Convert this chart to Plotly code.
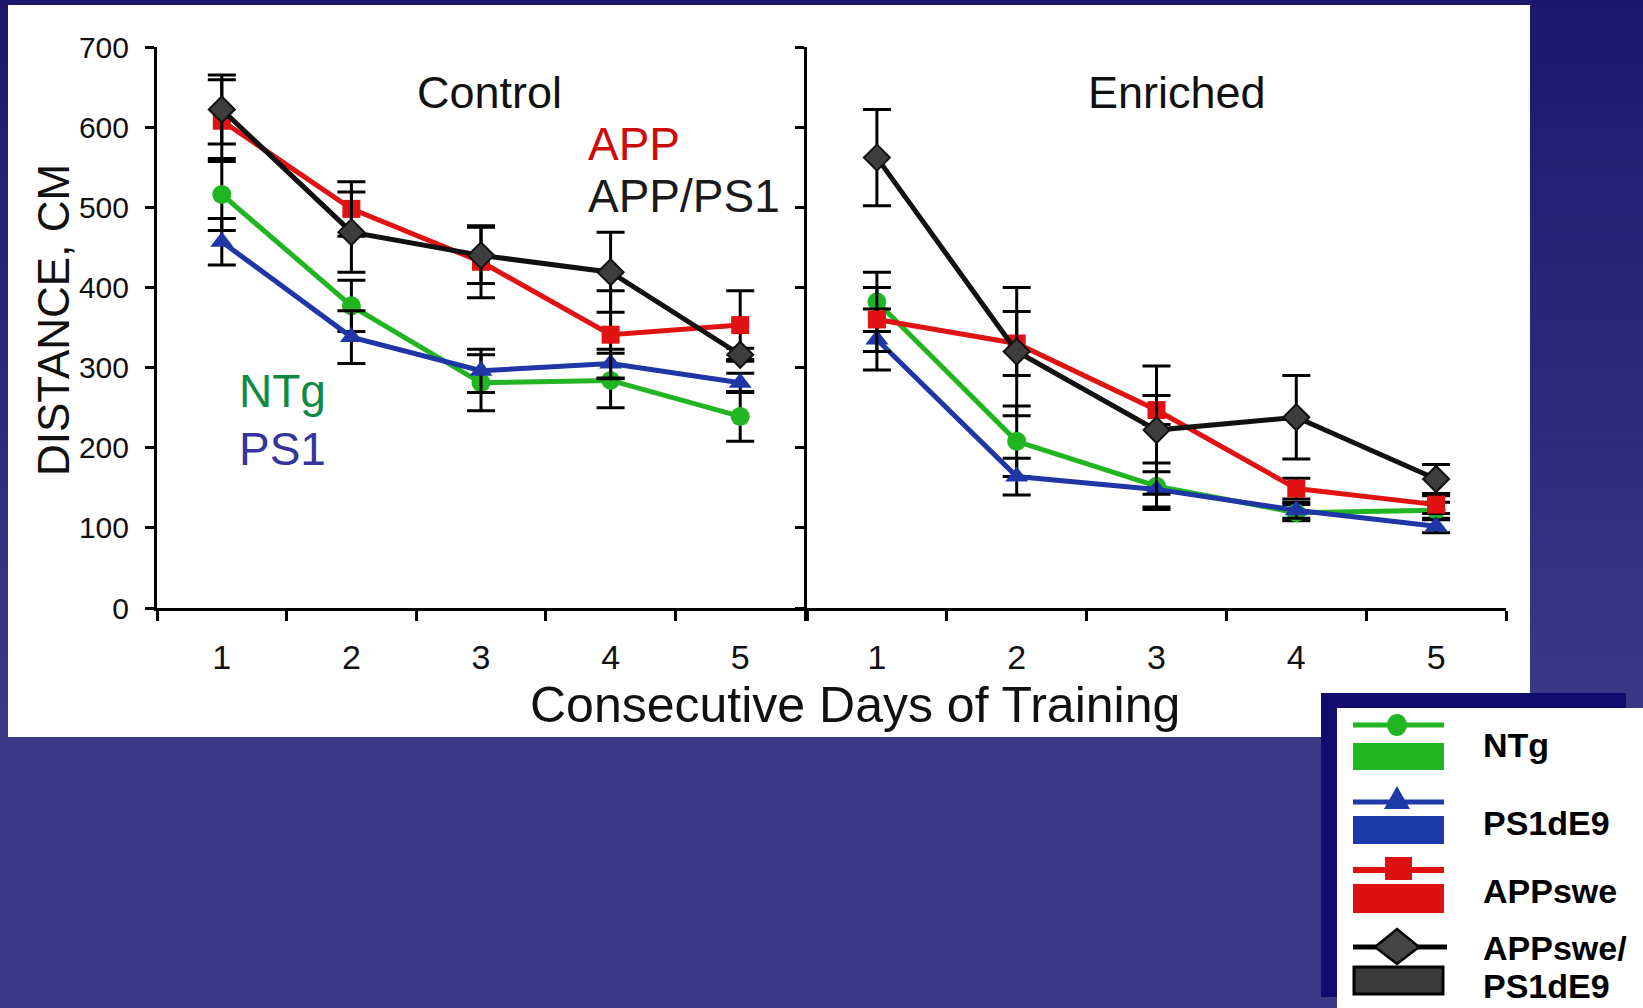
import plotly.graph_objects as go
from plotly.subplots import make_subplots

W, H = 1643, 1008

# ---------------- data ----------------
days = [1, 2, 3, 4, 5]
day_labels = ["1", "2", "3", "4", "5"]
y_ticks = [0, 100, 200, 300, 400, 500, 600, 700]

series_names = ["NTg", "PS1dE9", "APPswe", "APPswe/PS1dE9"]

ntg_control = [516, 377, 281, 284, 239]
ntg_control_err = [45, 32, 35, 34, 31]
ps1_control = [457, 338, 296, 305, 281]
ps1_control_err = [29, 33, 27, 18, 12]
app_control = [608, 498, 432, 341, 353]
app_control_err = [51, 34, 45, 55, 43]
appps1_control = [622, 469, 440, 419, 316]
appps1_control_err = [43, 50, 35, 50, 8]

ntg_enriched = [382, 208, 152, 119, 122]
ntg_enriched_err = [37, 44, 29, 10, 10]
ps1_enriched = [335, 164, 148, 122, 102]
ps1_enriched_err = [38, 23, 22, 10, 8]
app_enriched = [360, 330, 247, 149, 129]
app_enriched_err = [40, 40, 18, 13, 11]
appps1_enriched = [562, 320, 222, 238, 161]
appps1_enriched_err = [60, 80, 80, 52, 18]

# ---------------- styles ----------------
GREEN = "#22b522"
BLUE = "#1f36a6"
RED = "#e01212"
BLACK = "#111111"
FONT = "Arial, Liberation Sans, sans-serif"

styles = [
    dict(color=GREEN, symbol="circle", size=19, fill=GREEN),
    dict(color=BLUE, symbol="triangle-up", size=20, fill=BLUE),
    dict(color=RED, symbol="square", size=18, fill=RED),
    dict(color=BLACK, symbol="diamond", size=20, fill="#3d3d3d"),
]


def px(x):
    return x / W


def py(y):
    return 1 - y / H


fig = make_subplots(rows=1, cols=2, shared_yaxes=False, horizontal_spacing=0.0)

control = [(ntg_control, ntg_control_err), (ps1_control, ps1_control_err),
           (app_control, app_control_err), (appps1_control, appps1_control_err)]
enriched = [(ntg_enriched, ntg_enriched_err), (ps1_enriched, ps1_enriched_err),
            (app_enriched, app_enriched_err), (appps1_enriched, appps1_enriched_err)]

for col, group in ((1, control), (2, enriched)):
    for name, (vals, errs), st in zip(series_names, group, styles):
        fig.add_trace(go.Scatter(
            x=days, y=vals, name=name, mode="lines+markers",
            line=dict(color=st["color"], width=5),
            marker=dict(symbol=st["symbol"], size=st["size"], color=st["fill"],
                        line=dict(color=st["color"], width=2 if st["symbol"] == "diamond" else 0)),
            error_y=dict(type="data", array=errs, visible=True, color="black",
                         thickness=3, width=14),
            showlegend=False,
        ), row=1, col=col)

axis_common = dict(
    showline=True, linecolor="black", linewidth=3, showgrid=False, zeroline=False,
)

fig.update_xaxes(
    **axis_common, range=[0.5, 5.5], tickmode="array", tickvals=days, ticktext=day_labels,
    ticks="", ticklabelstandoff=17,
    tickfont=dict(family=FONT, size=34, color="#111"),
    minor=dict(tickmode="array", tickvals=[0.5, 1.5, 2.5, 3.5, 4.5, 5.5], ticks="outside",
               ticklen=10, tickwidth=3, tickcolor="black"),
)
fig.update_yaxes(
    **axis_common, range=[0, 700], tickmode="array", tickvals=y_ticks,
    ticks="outside", ticklen=9, tickwidth=3, tickcolor="black",
    tickfont=dict(family=FONT, size=30, color="#111"), ticklabelstandoff=10,
)
fig.update_yaxes(showticklabels=False, row=1, col=2)

fig.update_layout(
    xaxis=dict(domain=[px(157), px(805)]),
    xaxis2=dict(domain=[px(807), px(1506)]),
    yaxis=dict(domain=[py(608), py(47)]),
    yaxis2=dict(domain=[py(608), py(47)]),
)

# ---------------- background shapes ----------------
shapes = []
N = 60
top = (26, 25, 108)
bot = (60, 58, 136)
grad_end = 760
for i in range(N):
    y0 = i * grad_end / N
    y1 = (i + 1) * grad_end / N + 1
    t = i / (N - 1)
    c = tuple(int(round(top[k] + (bot[k] - top[k]) * t)) for k in range(3))
    shapes.append(dict(type="rect", xref="paper", yref="paper", x0=0, x1=1,
                       y0=py(y1), y1=py(y0), fillcolor="rgb(%d,%d,%d)" % c,
                       line=dict(width=0), layer="below"))
# white panel
shapes.append(dict(type="rect", xref="paper", yref="paper", x0=px(8), x1=px(1530),
                   y0=py(737), y1=py(5), fillcolor="white", line=dict(width=0), layer="below"))
# legend box
shapes.append(dict(type="rect", xref="paper", yref="paper", x0=px(1321), x1=px(1626),
                   y0=py(997), y1=py(693), fillcolor="#100d6d", line=dict(width=0), layer="below"))
shapes.append(dict(type="rect", xref="paper", yref="paper", x0=px(1337), x1=px(1643),
                   y0=py(1008), y1=py(708), fillcolor="white", line=dict(width=0), layer="below"))


def hline(x0, x1, y, color, w):
    return dict(type="line", xref="paper", yref="paper", x0=px(x0), x1=px(x1),
                y0=py(y), y1=py(y), line=dict(color=color, width=w))


def rect(x0, x1, y0, y1, fill, lc=None, lw=0):
    return dict(type="rect", xref="paper", yref="paper", x0=px(x0), x1=px(x1),
                y0=py(y1), y1=py(y0), fillcolor=fill,
                line=dict(color=lc or fill, width=lw))


def path(points, fill, lc=None, lw=0):
    d = "M " + " L ".join("%f,%f" % (px(a), py(b)) for a, b in points) + " Z"
    return dict(type="path", xref="paper", yref="paper", path=d, fillcolor=fill,
                line=dict(color=lc or fill, width=lw))


LG = "#22b522"
LB = "#1e3aa8"
LR = "#dd1111"
# NTg
shapes.append(hline(1353, 1444, 725, LG, 5))
shapes.append(dict(type="circle", xref="paper", yref="paper", x0=px(1387), x1=px(1407),
                   y0=py(736), y1=py(714), fillcolor=LG, line=dict(width=0)))
shapes.append(rect(1353, 1444, 743, 770, LG))
# PS1dE9
shapes.append(hline(1353, 1444, 802, LB, 5))
shapes.append(path([(1397, 786), (1410, 809), (1384, 809)], LB))
shapes.append(rect(1353, 1444, 816, 844, LB))
# APPswe
shapes.append(hline(1353, 1444, 870, LR, 6))
shapes.append(rect(1385, 1412, 857, 880, LR))
shapes.append(rect(1353, 1444, 884, 913, LR))
# APPswe/PS1dE9
shapes.append(hline(1353, 1447, 947, "black", 5))
shapes.append(path([(1397, 929), (1419, 947), (1397, 964), (1375, 947)], "#444444", "black", 2.5))
shapes.append(rect(1354, 1443, 967, 994, "#3a3a3a", "black", 3))

fig.update_layout(shapes=shapes)

# ---------------- annotations ----------------
ann = []


def text(t, x, y, size, color="#111", xanchor="center", bold=False, angle=0, yanchor="middle"):
    ann.append(dict(text=("<b>%s</b>" % t) if bold else t, x=px(x), y=py(y),
                    xref="paper", yref="paper", xanchor=xanchor, yanchor=yanchor,
                    showarrow=False, textangle=angle,
                    font=dict(family=FONT, size=size, color=color)))


text("Control", 489, 92, 45)
text("Enriched", 1177, 92, 45)
text("APP", 586, 144, 46, "#cc0a0a", "left")
text("APP/PS1", 586, 196, 46, "#1a1a1a", "left")
text("NTg", 237, 391, 46, "#0e8a44", "left")
text("PS1", 237, 449, 46, "#34349e", "left")
text("DISTANCE, CM", 53, 320, 44, "#111", angle=-90)
text("Consecutive Days of Training", 855, 705, 50, "#111")

text("NTg", 1481, 745, 34, "black", "left", True)
text("PS1dE9", 1481, 823, 34, "black", "left", True)
text("APPswe", 1481, 891, 34, "black", "left", True)
text("APPswe/", 1481, 948, 34, "black", "left", True)
text("PS1dE9", 1481, 1007, 34, "black", "left", True, yanchor="bottom")

fig.update_layout(
    annotations=ann,
    width=W, height=H, autosize=False,
    margin=dict(l=0, r=0, t=0, b=0, pad=0, autoexpand=False),
    paper_bgcolor="rgb(60,58,136)",
    plot_bgcolor="rgba(0,0,0,0)",
    showlegend=False,
)

fig.write_html("out.html", config={"displayModeBar": False})
